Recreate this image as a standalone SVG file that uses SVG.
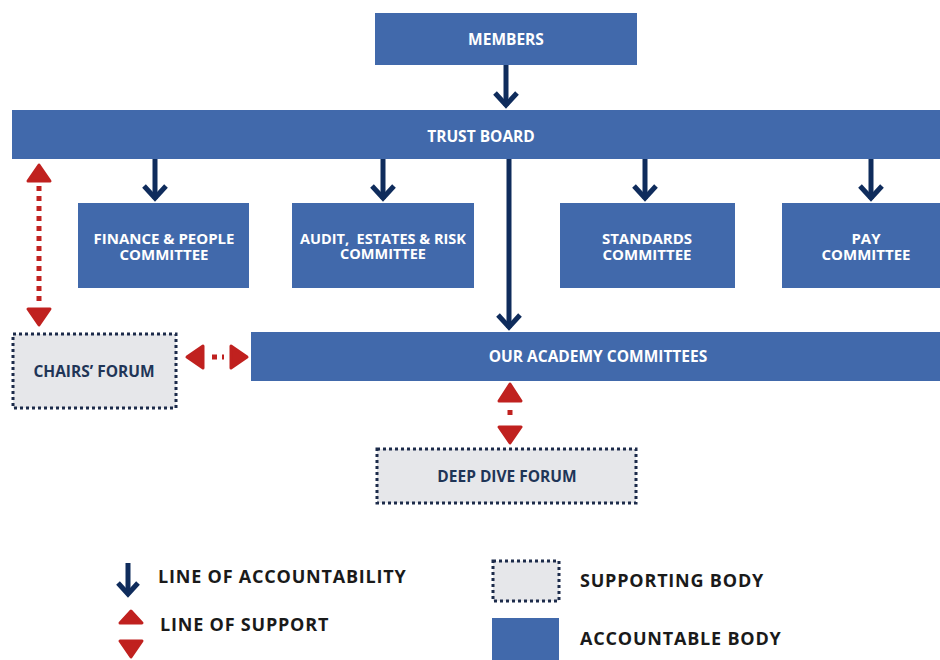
<svg xmlns="http://www.w3.org/2000/svg" width="940" height="660" viewBox="0 0 940 660">
<style>
.box{fill:#4169ab;}
.sup{fill:#e6e7ea;stroke:#1c2b4a;stroke-width:3;stroke-dasharray:3 3;}
.bt{font-family:"Open Sans","Liberation Sans",sans-serif;font-weight:bold;font-size:15.5px;fill:#ffffff;text-anchor:middle;}
.bt2{font-family:"Open Sans","Liberation Sans",sans-serif;font-weight:bold;font-size:15px;fill:#ffffff;text-anchor:middle;}
.st{font-family:"Open Sans","Liberation Sans",sans-serif;font-weight:bold;font-size:15.5px;fill:#1f3557;text-anchor:middle;}
.lt{font-family:"Open Sans","Liberation Sans",sans-serif;font-weight:bold;font-size:18px;letter-spacing:0.8px;fill:#1a1a1a;}
.acc{stroke:#0f2c5c;stroke-width:5;fill:none;}
.chev{stroke:#0f2c5c;stroke-width:5;fill:none;stroke-linejoin:miter;}
.dot{stroke:#c0211f;stroke-width:5;stroke-dasharray:5 5;fill:none;}
.hd{fill:#c0211f;stroke:#c0211f;stroke-width:3;stroke-linejoin:round;}
</style>
<rect width="940" height="660" fill="#ffffff"/>
<g id="members"><rect class="box" x="375" y="13" width="262" height="52"/><text class="bt" x="506" y="45">MEMBERS</text></g>
<g id="trust-board"><rect class="box" x="12" y="110" width="928" height="49"/><text class="bt" x="481" y="142">TRUST BOARD</text></g>
<g id="finance"><rect class="box" x="78" y="203" width="171" height="85"/><text class="bt2"><tspan x="164" y="244">FINANCE &amp; PEOPLE</tspan><tspan x="164" y="260">COMMITTEE</tspan></text></g>
<g id="audit"><rect class="box" x="292" y="203" width="182" height="85"/><text class="bt2" style="font-size:14.5px"><tspan x="383" y="244">AUDIT,&#160; ESTATES &amp; RISK</tspan><tspan x="383" y="259">COMMITTEE</tspan></text></g>
<g id="standards"><rect class="box" x="560" y="203" width="175" height="85"/><text class="bt2"><tspan x="647" y="244">STANDARDS</tspan><tspan x="647" y="260">COMMITTEE</tspan></text></g>
<g id="pay"><rect class="box" x="782" y="203" width="158" height="85"/><text class="bt2"><tspan x="866" y="244">PAY</tspan><tspan x="866" y="260">COMMITTEE</tspan></text></g>
<g id="academy"><rect class="box" x="251" y="332" width="689" height="49"/><text class="bt" x="598" y="362">OUR ACADEMY COMMITTEES</text></g>
<g id="chairs-forum"><rect class="sup" x="13" y="334" width="163" height="74"/><text class="st" x="94" y="377">CHAIRS’ FORUM</text></g>
<g id="deep-dive"><rect class="sup" x="377" y="449" width="259" height="54"/><text class="st" x="507" y="482">DEEP DIVE FORUM</text></g>
<g id="connectors">
<line class="acc" x1="506" y1="65" x2="506" y2="106"/><path class="chev" d="M495,93 L506,105 L517,93"/>
<line class="acc" x1="155" y1="159" x2="155" y2="199"/><path class="chev" d="M144,186 L155,198 L166,186"/>
<line class="acc" x1="383" y1="159" x2="383" y2="199"/><path class="chev" d="M372,186 L383,198 L394,186"/>
<line class="acc" x1="645" y1="159" x2="645" y2="199"/><path class="chev" d="M634,186 L645,198 L656,186"/>
<line class="acc" x1="871" y1="159" x2="871" y2="199"/><path class="chev" d="M860,186 L871,198 L882,186"/>
<line class="acc" x1="509" y1="159" x2="509" y2="328"/><path class="chev" d="M498,315 L509,327 L520,315"/>
<line class="dot" x1="39" y1="186" x2="39" y2="305"/>
<path class="hd" d="M39,165 L50,181 L28,181 Z"/><path class="hd" d="M39,325 L50,309 L28,309 Z"/>
<line class="dot" x1="212" y1="357" x2="224" y2="357"/>
<path class="hd" d="M187,357 L203,346 L203,368 Z"/><path class="hd" d="M247,357 L231,346 L231,368 Z"/>
<line class="dot" x1="510" y1="410" x2="510" y2="417"/>
<path class="hd" d="M510,384 L521,401 L499,401 Z"/><path class="hd" d="M510,443 L521,427 L499,427 Z"/>
</g>
<g id="legend">
<line class="acc" x1="128" y1="563" x2="128" y2="594"/><path class="chev" d="M118,583 L128,594 L138,583"/>
<text class="lt" x="158" y="583">LINE OF ACCOUNTABILITY</text>
<path class="hd" d="M131,611 L142,623 L120,623 Z"/><path class="hd" d="M131,657 L142,641 L120,641 Z"/>
<text class="lt" x="160" y="631">LINE OF SUPPORT</text>
<rect class="sup" x="493" y="561" width="66" height="40"/>
<text class="lt" x="580" y="587">SUPPORTING BODY</text>
<rect class="box" x="492" y="618" width="67" height="42"/>
<text class="lt" x="580" y="645">ACCOUNTABLE BODY</text>
</g>
</svg>
